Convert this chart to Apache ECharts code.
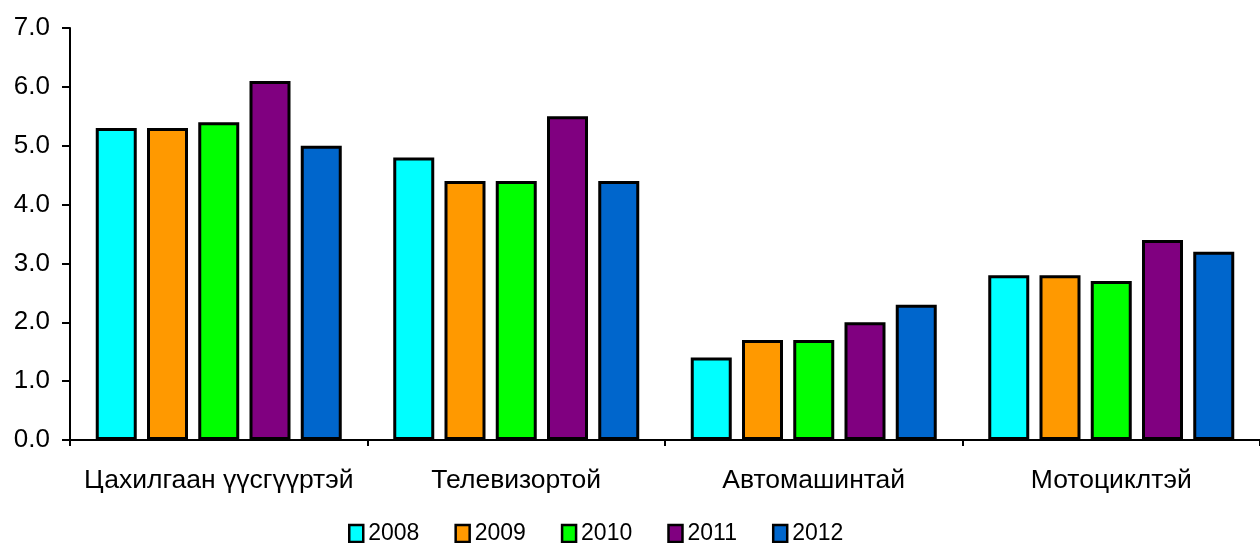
<!DOCTYPE html>
<html>
<head>
<meta charset="utf-8">
<script src="https://cdn.jsdelivr.net/npm/echarts@6/dist/echarts.min.js"></script>
<style>html,body{margin:0;padding:0;background:#fff;}#c{width:1260px;height:543px;}</style>
</head>
<body>
<div id="c"></div>
<script>
const categories = ['Цахилгаан үүсгүүртэй', 'Телевизортой', 'Автомашинтай', 'Мотоциклтэй'];
const years = ['2008', '2009', '2010', '2011', '2012'];
const v2008 = [5.3, 4.8, 1.4, 2.8];
const v2009 = [5.3, 4.4, 1.7, 2.8];
const v2010 = [5.4, 4.4, 1.7, 2.7];
const v2011 = [6.1, 5.5, 2.0, 3.4];
const v2012 = [5.0, 4.4, 2.3, 3.2];
const colors = ['#00FFFF', '#FF9900', '#00FF00', '#800080', '#0066CC'];
const seriesValues = [v2008, v2009, v2010, v2011, v2012];

const chart = echarts.init(document.getElementById('c'), null, {renderer: 'canvas'});
const font = '"Liberation Sans", Arial, sans-serif';
chart.setOption({
  animation: false,
  backgroundColor: '#fff',
  grid: {left: 70, top: 28, width: 1198, height: 412, containLabel: false},
  legend: {
    data: years,
    left: 348,
    top: 522,
    padding: 0,
    itemWidth: 14,
    itemHeight: 17,
    itemGap: 35,
    icon: 'rect',
    textStyle: {fontFamily: font, fontSize: 23, color: '#000', padding: [1,0,0,0]},
    itemStyle: {borderColor: '#000', borderWidth: 2.5}
  },
  xAxis: {
    type: 'category',
    data: categories,
    axisLine: {lineStyle: {color: '#000', width: 2}},
    axisTick: {show: true, interval: 0, length: 6, lineStyle: {color: '#000', width: 2}},
    axisLabel: {interval: 0, fontFamily: font, fontSize: 26.5, color: '#000', margin: 27}
  },
  yAxis: {
    type: 'value',
    min: 0, max: 7, interval: 1,
    splitLine: {show: false},
    axisLine: {show: true, lineStyle: {color: '#000', width: 2}},
    axisTick: {show: true, length: 8, lineStyle: {color: '#000', width: 2}},
    axisLabel: {fontFamily: font, fontSize: 26, color: '#000', margin: 20, formatter: v => v.toFixed(1)}
  },
  series: years.map((y, i) => ({
    name: y,
    type: 'bar',
    data: seriesValues[i],
    barWidth: 41,
    barGap: '25%',
    itemStyle: {color: colors[i], borderColor: '#000', borderWidth: 3}
  }))
});
</script>
</body>
</html>
